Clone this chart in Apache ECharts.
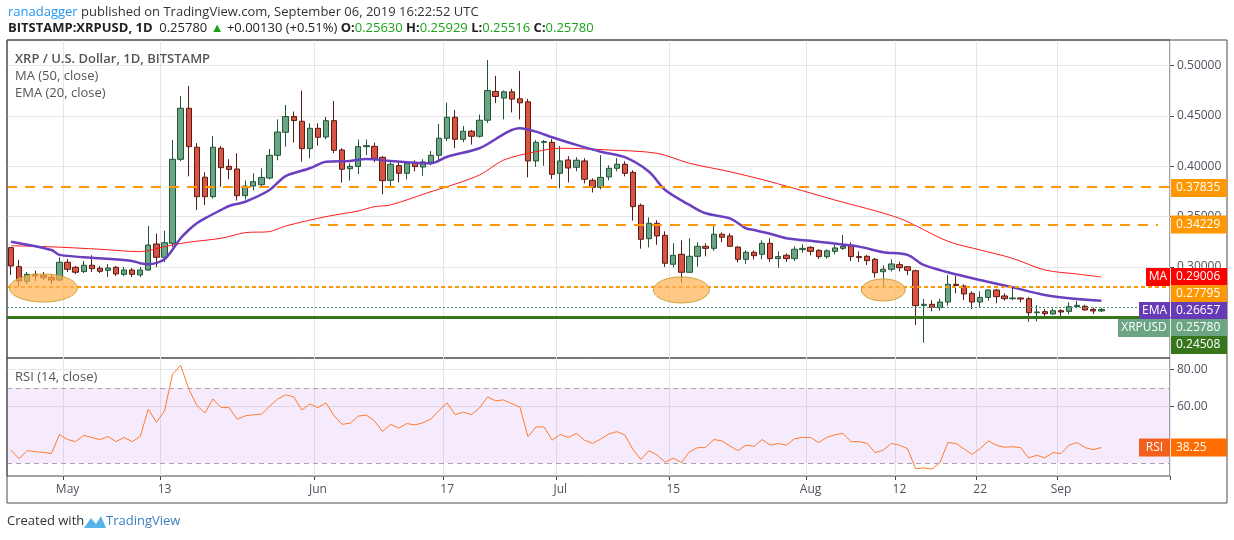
<!DOCTYPE html>
<html><head><meta charset="utf-8">
<script src="https://cdn.jsdelivr.net/npm/echarts@6/dist/echarts.min.js"></script>
<style>html,body{margin:0;padding:0;background:#fff}#c{width:1234px;height:540px}</style>
</head><body><div id="c"></div>
<script>
const startDate = '2019-04-24';
const totalDays = 144;
const open = [0.3192,0.3003,0.2858,0.2927,0.2917,0.2897,0.2870,0.3047,0.2997,0.2954,0.3017,0.2987,0.2967,0.2997,0.2927,0.2970,0.2921,0.2970,0.3228,0.3096,0.3235,0.4069,0.4576,0.4189,0.3891,0.3698,0.4179,0.3999,0.3973,0.3708,0.3804,0.3817,0.3883,0.4109,0.4338,0.4494,0.4447,0.4175,0.4377,0.4291,0.4453,0.4162,0.3976,0.3999,0.4195,0.4198,0.4089,0.3860,0.4007,0.3930,0.4030,0.3993,0.4040,0.4109,0.4278,0.4487,0.4268,0.4348,0.4298,0.4457,0.4743,0.4677,0.4739,0.4670,0.4640,0.4053,0.4238,0.4238,0.3930,0.4063,0.3990,0.4053,0.3861,0.3791,0.3894,0.3980,0.4020,0.3940,0.3612,0.3281,0.3434,0.3314,0.3027,0.3126,0.2947,0.3106,0.3205,0.3185,0.3325,0.3308,0.3198,0.3076,0.3146,0.3126,0.3235,0.3083,0.3116,0.3083,0.3172,0.3195,0.3165,0.3103,0.3155,0.3185,0.3215,0.3103,0.3106,0.3076,0.2953,0.2977,0.3023,0.3003,0.2963,0.2619,0.2629,0.2596,0.2652,0.2828,0.2811,0.2738,0.2652,0.2698,0.2771,0.2712,0.2685,0.2692,0.2685,0.2546,0.2556,0.2533,0.2566,0.2559,0.2606,0.2609,0.2579,0.2563];
const close = [0.3010,0.2861,0.2927,0.2911,0.2894,0.2870,0.3047,0.2977,0.2948,0.3017,0.2984,0.2957,0.2990,0.2931,0.2970,0.2927,0.2970,0.3218,0.3096,0.3241,0.4069,0.4576,0.4195,0.3698,0.3698,0.4189,0.3986,0.3969,0.3708,0.3804,0.3847,0.3889,0.4109,0.4340,0.4494,0.4454,0.4175,0.4377,0.4288,0.4453,0.4159,0.3970,0.3999,0.4195,0.4205,0.4079,0.3857,0.4020,0.3930,0.4030,0.3997,0.4043,0.4109,0.4278,0.4487,0.4268,0.4348,0.4298,0.4457,0.4752,0.4693,0.4739,0.4667,0.4630,0.4053,0.4238,0.4245,0.3920,0.4053,0.3983,0.4060,0.3871,0.3791,0.3890,0.3980,0.4020,0.3930,0.3599,0.3275,0.3434,0.3308,0.3037,0.3116,0.2947,0.3106,0.3205,0.3185,0.3325,0.3295,0.3205,0.3076,0.3146,0.3112,0.3235,0.3083,0.3103,0.3083,0.3176,0.3185,0.3155,0.3103,0.3160,0.3189,0.3205,0.3103,0.3093,0.3063,0.2943,0.2977,0.3030,0.2993,0.2967,0.2616,0.2629,0.2599,0.2652,0.2828,0.2816,0.2732,0.2652,0.2698,0.2771,0.2705,0.2685,0.2692,0.2682,0.2546,0.2553,0.2536,0.2566,0.2553,0.2606,0.2619,0.2573,0.2563,0.2578];
const low = [0.292,0.2804,0.283,0.286,0.287,0.283,0.286,0.295,0.293,0.294,0.295,0.294,0.290,0.291,0.291,0.290,0.290,0.296,0.300,0.305,0.320,0.405,0.390,0.3566,0.3615,0.368,0.3797,0.387,0.366,0.367,0.376,0.380,0.387,0.406,0.4195,0.4235,0.4046,0.408,0.4205,0.427,0.413,0.3837,0.3857,0.392,0.411,0.404,0.3722,0.3804,0.384,0.387,0.395,0.3905,0.401,0.406,0.425,0.418,0.424,0.4215,0.4285,0.443,0.4627,0.4466,0.4535,0.4466,0.389,0.3995,0.4006,0.3873,0.3782,0.384,0.395,0.383,0.374,0.377,0.386,0.395,0.390,0.346,0.3182,0.3195,0.322,0.300,0.2997,0.2844,0.2947,0.3003,0.3106,0.316,0.3245,0.3205,0.3046,0.303,0.3076,0.3076,0.305,0.2993,0.305,0.306,0.314,0.3116,0.308,0.3083,0.3126,0.317,0.306,0.305,0.302,0.2894,0.2811,0.2957,0.2957,0.2917,0.2424,0.2248,0.2560,0.2566,0.2616,0.2738,0.2670,0.2580,0.2596,0.2665,0.2640,0.2665,0.2670,0.2650,0.2457,0.2460,0.2513,0.2526,0.2500,0.2530,0.2590,0.2566,0.2533,0.25516];
const high = [0.3195,0.307,0.295,0.2963,0.295,0.293,0.3096,0.308,0.301,0.306,0.3116,0.301,0.303,0.301,0.300,0.299,0.300,0.3407,0.333,0.336,0.4261,0.4698,0.4797,0.423,0.394,0.430,0.420,0.407,0.4129,0.386,0.393,0.398,0.4172,0.4466,0.4609,0.4543,0.4752,0.4427,0.4427,0.449,0.4648,0.418,0.403,0.4265,0.4265,0.4235,0.410,0.404,0.404,0.405,0.406,0.407,0.415,0.442,0.4631,0.4559,0.440,0.436,0.4514,0.5055,0.4898,0.4753,0.4770,0.4947,0.467,0.426,0.426,0.427,0.4202,0.410,0.409,0.408,0.388,0.411,0.401,0.408,0.405,0.396,0.363,0.3493,0.3464,0.3354,0.3235,0.3265,0.3285,0.3245,0.3235,0.3424,0.3344,0.3335,0.3205,0.3165,0.3165,0.3265,0.3285,0.3155,0.3135,0.3205,0.3225,0.3205,0.3175,0.3175,0.3225,0.3318,0.3245,0.3155,0.312,0.309,0.3017,0.3076,0.3052,0.3003,0.2973,0.2682,0.2669,0.2685,0.2921,0.2911,0.2828,0.2758,0.2758,0.2778,0.2781,0.2738,0.2804,0.2698,0.2700,0.2620,0.2582,0.2586,0.2580,0.2649,0.2665,0.2625,0.2596,0.25929];
const emaPoints = [[0,0.3251],[5,0.3169],[6,0.312],[11,0.3086],[15,0.306],[16,0.3037],[17,0.3027],[19,0.3076],[21,0.3285],[22,0.3367],[23,0.3434],[24,0.3483],[26,0.3566],[27,0.3606],[29,0.3648],[32,0.3764],[34,0.3903],[37,0.398],[39,0.4046],[42,0.4053],[44,0.4072],[47,0.4053],[52,0.403],[54,0.4095],[58,0.4179],[63,0.4377],[65,0.4344],[67,0.4288],[70,0.4212],[73,0.4145],[76,0.409],[79,0.3946],[81,0.3764],[84,0.3616],[86,0.3533],[89,0.3483],[91,0.3384],[92,0.3367],[94,0.333],[96,0.3285],[100,0.3251],[105,0.3202],[108,0.3146],[111,0.312],[113,0.302],[116,0.2948],[120,0.287],[124,0.2798],[128,0.2722],[132,0.2682],[135,0.26657]];
const maPoints = [[0,0.3211],[5,0.320],[11,0.3176],[16,0.3152],[19,0.3202],[22,0.3246],[26,0.3285],[29,0.3341],[32,0.3351],[34,0.3407],[39,0.35],[43,0.3556],[45,0.3599],[47,0.3616],[52,0.3748],[54,0.3797],[58,0.3913],[61,0.4062],[65,0.4145],[68,0.4179],[74,0.4162],[80,0.4129],[84,0.403],[89,0.3946],[94,0.3847],[102,0.3665],[110,0.3483],[116,0.3255],[120,0.3169],[124,0.3086],[128,0.297],[132,0.293],[135,0.29006]];
const rsi = [36.9,32.3,36.6,36.0,35.7,35.0,45.2,42.5,41.4,44.7,43.6,42.5,44.1,41.4,43.6,41.4,44.1,58.7,51.7,57.7,77.3,82.0,69.5,60.7,56.6,64.1,59.5,59.5,53.3,55.1,55.7,56.0,60.2,64.0,66.3,65.2,58.2,61.4,59.5,62.0,55.1,50.6,51.2,55.0,55.5,52.4,46.8,50.6,
48.6,51.0,50.3,51.4,53.5,58.0,62.0,55.7,57.1,55.7,59.3,65.2,63.1,63.6,61.6,59.8,44.0,49.2,49.2,42.2,45.2,43.6,45.8,42.2,40.4,42.7,45.4,46.7,44.9,37.3,31.9,36.6,34.2,30.5,32.6,30.3,35.9,38.2,38.2,42.5,41.8,39.1,36.6,39.5,38.9,42.5,39.5,40.4,39.5,42.9,
43.6,43.6,40.9,43.6,45.0,45.8,41.4,41.4,40.5,35.5,36.9,40.4,39.5,37.7,27.0,27.4,26.8,30.1,40.9,40.4,37.5,34.6,37.7,41.8,39.5,38.4,38.7,38.2,32.8,34.1,32.8,35.5,35.1,39.5,40.9,38.2,37.1,38.25];
const priceTicks = [0.25,0.30,0.35,0.40,0.45,0.50];
const rsiTicks = [60,80];
const tickDates = ['2019-05-01','2019-05-13','2019-06-01','2019-06-17','2019-07-01','2019-07-15','2019-08-01','2019-08-12','2019-08-22','2019-09-01'];
const levels = {r1:0.37835, r2:0.34229, r2Start:37, s1:0.27795, support:0.24508, last:0.25780, ma:0.29006, ema:0.26657, rsiLast:38.25};
const circles = [[3.5,0.2791],[82.8,0.2772],[107.6,0.2772]];
const circleSizes = [[34,14],[28,13],[22,11]];

const months=['Jan','Feb','Mar','Apr','May','Jun','Jul','Aug','Sep','Oct','Nov','Dec'];
const dates=[];
{const d=new Date(startDate+'T00:00:00Z');for(let i=0;i<totalDays;i++){const t=new Date(d.getTime()+i*86400000);dates.push(t.toISOString().slice(0,10));}}
const ohlc = open.map((o,i)=>[o,close[i],low[i],high[i]]);
function expand(p){const a=new Array(open.length).fill(null);p.forEach(([i,v])=>a[i]=v);return a;}
const isTick=(i,v)=>tickDates.includes(v);
const FONT='Open Sans';
const chart=echarts.init(document.getElementById('c'));
const gridLine={lineStyle:{color:'#e9e9ea',width:1}};
chart.setOption({
  animation:false,
  textStyle:{fontFamily:FONT},
  grid:[{left:7,right:64,top:40,height:318,show:true,borderColor:'#4a4a4a',borderWidth:1},
        {left:7,right:64,top:358,height:118,show:true,borderColor:'#4a4a4a',borderWidth:1}],
  xAxis:[{type:'category',data:dates,gridIndex:0,axisLine:{show:false},axisTick:{show:false},axisLabel:{show:false},splitLine:{show:true,interval:isTick,lineStyle:{color:'#e6e6e6'}}},
         {type:'category',data:dates,gridIndex:1,axisLine:{show:false},axisTick:{show:true,interval:isTick,length:4,lineStyle:{color:'#4a4a4a'}},
          axisLabel:{interval:isTick,color:'#4c525e',fontSize:12,margin:8,formatter:v=>{const dd=+v.slice(8);return dd===1?months[+v.slice(5,7)-1]:String(dd);}},
          splitLine:{show:true,interval:isTick,lineStyle:{color:'#e6e6e6'}}}],
  yAxis:[{type:'value',gridIndex:0,position:'right',min:0.2096,max:0.5254,splitNumber:6,scale:true,
          axisLine:{show:false},axisTick:{show:true,customValues:priceTicks,length:4,lineStyle:{color:'#4a4a4a'}},
          axisLabel:{customValues:priceTicks,color:'#4c525e',fontSize:12,margin:7,formatter:v=>v.toFixed(5)},
          splitLine:{show:true,lineStyle:{color:'#e6e6e6'}}},
         {type:'value',gridIndex:1,position:'right',min:23.1,max:85.9,splitNumber:3,
          axisLine:{show:false},axisTick:{show:true,customValues:rsiTicks,length:4,lineStyle:{color:'#4a4a4a'}},
          axisLabel:{customValues:rsiTicks,color:'#4c525e',fontSize:12,margin:7,formatter:v=>v.toFixed(2)},
          splitLine:{show:true,lineStyle:{color:'#e6e6e6'}}}],
  series:[
   {type:'candlestick',xAxisIndex:0,yAxisIndex:0,data:ohlc,barWidth:'72%',
    itemStyle:{color:'#6ba583',color0:'#d75442',borderColor:'#225437',borderColor0:'#5b1a13',borderWidth:1},
    markLine:{silent:true,symbol:'none',label:{show:false},data:[
      {yAxis:levels.r1,lineStyle:{color:'#ff9800',width:2,type:[10,8]}},
      [{coord:[levels.r2Start,levels.r2],lineStyle:{color:'#ff9800',width:2,type:[10,8]}},{coord:[dates.length-2,levels.r2]}],
      {yAxis:levels.s1,lineStyle:{color:'#ff9800',width:2,type:[4,3]}},
      {yAxis:levels.support,lineStyle:{color:'#38761d',width:3,type:'solid'}},
      {yAxis:levels.last,lineStyle:{color:'#3d9a6a',width:1,type:[2,2]}}
    ]}},
   {type:'line',xAxisIndex:0,yAxisIndex:0,data:expand(maPoints),connectNulls:true,showSymbol:false,smooth:0.3,lineStyle:{color:'#ff1a1a',width:1},z:3},
   {type:'line',xAxisIndex:0,yAxisIndex:0,data:expand(emaPoints),connectNulls:true,showSymbol:false,smooth:0.3,lineStyle:{color:'#6a3fc0',width:2.5},z:4},
   {type:'line',xAxisIndex:1,yAxisIndex:1,data:rsi,showSymbol:false,lineStyle:{color:'#ff7a2b',width:1},
    markArea:{silent:true,itemStyle:{color:'rgba(180,90,240,0.12)'},data:[[{yAxis:30},{yAxis:70}]]},
    markLine:{silent:true,symbol:'none',label:{show:false},lineStyle:{color:'#aaa3ad',type:[5,4],width:1},data:[{yAxis:30},{yAxis:70}]}}
  ]
});
// annotations and price tags
const g=[];
circles.forEach((c,k)=>{const p=chart.convertToPixel({xAxisIndex:0,yAxisIndex:0},c);
  g.push({type:'ellipse',shape:{cx:p[0],cy:p[1],rx:circleSizes[k][0],ry:circleSizes[k][1]},style:{fill:'rgba(255,176,80,0.7)',stroke:'#c9a43a',lineWidth:1},z:5});});
const tags=[
 {v:levels.r1,txt:levels.r1.toFixed(5),bg:'#ff9800'},
 {v:levels.r2,txt:levels.r2.toFixed(5),bg:'#ff9800'},
 {v:levels.ma,txt:levels.ma.toFixed(5),bg:'#ff0000',tag:'MA'},
 {v:levels.s1,txt:levels.s1.toFixed(5),bg:'#ff9800'},
 {v:levels.ema,txt:levels.ema.toFixed(5),bg:'#673ab7',tag:'EMA'},
 {v:levels.last,txt:levels.last.toFixed(5),bg:'#6ba583',tag:'XRPUSD'},
 {v:levels.support,txt:levels.support.toFixed(5),bg:'#38761d'}];
let prev=-1e9;
const addTag=(y,t,bg,tag,tagBg)=>{
  g.push({type:'rect',shape:{x:1171,y:y-9,width:56,height:18},style:{fill:bg},z:20});
  g.push({type:'text',style:{x:1176,y:y,text:t,fill:'#fff',font:'12px '+FONT,textVerticalAlign:'middle'},z:21});
  if(tag){const w=tag.length*7+10;
    g.push({type:'rect',shape:{x:1170-w,y:y-9,width:w,height:18},style:{fill:tagBg||bg},z:20});
    g.push({type:'text',style:{x:1170-w/2,y:y,text:tag,fill:'#fff',font:'12px '+FONT,textAlign:'center',textVerticalAlign:'middle'},z:21});}
};
tags.forEach(t=>{let y=chart.convertToPixel({yAxisIndex:0},t.v);y=Math.max(y,prev+17);prev=y;addTag(y,t.txt,t.bg,t.tag);});
{const y=chart.convertToPixel({yAxisIndex:1},levels.rsiLast);addTag(y,levels.rsiLast.toFixed(2),'#ff6d00','RSI','#f2601e');}
// frame
g.push({type:'rect',shape:{x:7,y:40,width:1220,height:463},style:{fill:'none',stroke:'#4a4a4a',lineWidth:1},z:10});
g.push({type:'text',style:{x:8,y:6,rich:{a:{fill:'#2196f3',font:'13px '+FONT},b:{fill:'#333',font:'13px '+FONT}},text:'{a|ranadagger}{b| published on TradingView.com, September 06, 2019 16:22:52 UTC}'},z:30});
g.push({type:'text',style:{x:8,y:22,rich:{b:{fill:'#222',font:'bold 13px '+FONT},n:{fill:'#222',font:'13px '+FONT},g:{fill:'#1aa31a',font:'13px '+FONT}},
 text:'{b|BITSTAMP:XRPUSD, 1D}{n|  0.25780 }{g|▲}{n| +0.00130 (+0.51%) }{b|O:}{g|0.25630 }{b|H:}{g|0.25929 }{b|L:}{g|0.25516 }{b|C:}{g|0.25780}'},z:30});
g.push({type:'text',style:{x:15,y:53,text:'XRP / U.S. Dollar, 1D, BITSTAMP',fill:'#555',font:'600 13px '+FONT},z:30});
g.push({type:'text',style:{x:15,y:70,text:'MA (50, close)',fill:'#555',font:'13px '+FONT},z:30});
g.push({type:'text',style:{x:15,y:87,text:'EMA (20, close)',fill:'#555',font:'13px '+FONT},z:30});
g.push({type:'text',style:{x:15,y:371,text:'RSI (14, close)',fill:'#555',font:'13px '+FONT},z:30});
g.push({type:'text',style:{x:7,y:515,text:'Created with',fill:'#333',font:'13px '+FONT},z:30});
g.push({type:'polygon',shape:{points:[[84,528],[91,518],[96,524],[101,516],[106,528]]},style:{fill:'#58b4e8'},z:30});
g.push({type:'text',style:{x:106,y:515,text:'TradingView',fill:'#3a7fbf',font:'13px '+FONT},z:30});
chart.setOption({graphic:g});
</script></body></html>
